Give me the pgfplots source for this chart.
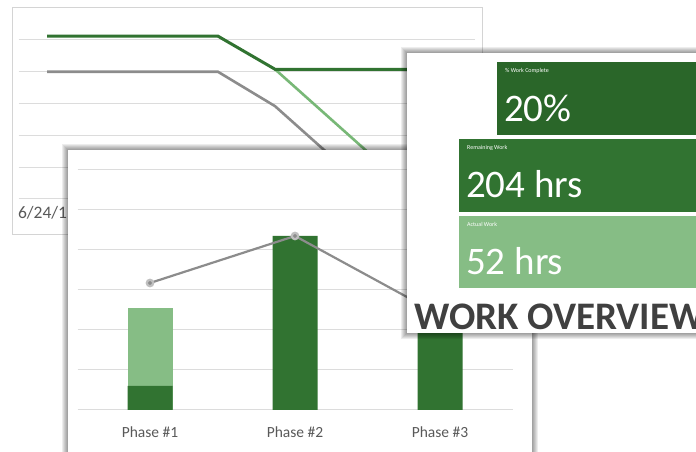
\documentclass[border=0pt]{standalone}
\usepackage{pgfplots}
\pgfplotsset{compat=1.18}
\usepackage{fontspec}
\setmainfont{Carlito}
\definecolor{dkgreen}{HTML}{317331}
\definecolor{dkgreenB}{HTML}{2A6629}
\definecolor{ltgreen}{HTML}{86BD85}
\definecolor{ltline}{HTML}{78B877}
\definecolor{linegray}{HTML}{8C8C8C}
\definecolor{gridgray}{HTML}{DCDCDC}
\definecolor{txtgray}{HTML}{595959}
\definecolor{titlegray}{HTML}{404040}
\begin{document}
\begin{tikzpicture}[x=1pt,y=1pt]
\useasboundingbox (0,0) rectangle (696,452);
\begin{scope}
\clip (0,0) rectangle (696,452);
\fill[white] (0,0) rectangle (696,452);
% ---------- panel 1 : line chart ----------
\draw[fill=white, draw=black!17, line width=1pt] (12,217) rectangle (482,444);
\begin{axis}[
  anchor=south west, at={(18.5pt,253pt)},
  x=57pt, y=0.636pt,
  xmin=-0.5, xmax=7.5, ymin=0, ymax=270,
  axis line style={draw=none}, tick style={draw=none},
  ytick={0,50,...,250}, yticklabels={},
  ymajorgrids, grid style={gridgray, line width=1pt},
  xtick={0,...,7},
  xticklabels={6/24/15,7/1/15,7/8/15,7/15/15,7/22/15,7/29/15,8/5/15,8/12/15},
  xticklabel style={font=\fontsize{17.5}{17.5}\selectfont, text=txtgray, yshift=-4pt},
]
\addplot[linegray, line width=2.6pt] coordinates {(0,200)(1,200)(2,200)(3,200)(4,146)(5,66)};
\addplot[ltline, line width=2.6pt] coordinates {(4,204)(5,124)(6,44)};
\addplot[dkgreen, line width=3pt] coordinates {(0,256)(1,256)(2,256)(3,256)(4,204)(5,204)(6,204)(7,204)};
\end{axis}
% ---------- panel 2 : bar chart ----------
\foreach \i in {1,...,6} {\fill[black, opacity=0.07] ({68-\i},{-8-\i}) rectangle ({532+\i},{302+\i});}
\fill[white] (68,-8) rectangle (532,302);
\begin{axis}[
  anchor=south west, at={(77.5pt,42pt)},
  x=145pt, y=2pt,
  xmin=-0.5, xmax=2.5, ymin=0, ymax=128,
  axis line style={draw=none}, tick style={draw=none},
  ytick={0,20,...,120}, yticklabels={},
  ymajorgrids, grid style={gridgray, line width=1pt},
  xtick={0,1,2}, xticklabels={Phase \#1,Phase \#2,Phase \#3},
  xticklabel style={font=\fontsize{15.5}{15.5}\selectfont, text=txtgray, yshift=-13pt},
]
\addplot[ybar, bar width=45pt, bar shift=0pt, fill=ltgreen, draw=none] coordinates {(0,51)};
\addplot[ybar, bar width=45pt, bar shift=0pt, fill=dkgreen, draw=none] coordinates {(0,12)(1,87)(2,55)};
\addplot[linegray, line width=2.2pt, mark=*, mark size=3.2pt, mark options={fill=linegray, draw=black!25}] coordinates {(0,63.5)(1,87)(2,47.5)};
\end{axis}
% ---------- panel 3 : work overview ----------
\foreach \i in {1,...,6} {\fill[black, opacity=0.07] ({407-\i},{119-\i}) rectangle ({700+\i},{399+\i});}
\fill[white] (407,119) rectangle (700,399);
\fill[dkgreenB] (497,317) rectangle (696,390);
\fill[dkgreen] (459,240) rectangle (696,313);
\fill[ltgreen] (459,164) rectangle (696,236);
\node[anchor=west, inner sep=0pt, text=white, font=\fontsize{6}{6}\selectfont] at (505,381) {\% Work Complete};
\node[anchor=base west, inner sep=0pt, text=white, font=\fontsize{39}{39}\selectfont] at (504,330) {20\%};
\node[anchor=west, inner sep=0pt, text=white, font=\fontsize{6}{6}\selectfont] at (467,304) {Remaining Work};
\node[anchor=base west, inner sep=0pt, text=white, font=\fontsize{39}{39}\selectfont] at (466,254) {204 hrs};
\node[anchor=west, inner sep=0pt, text=white, font=\fontsize{6}{6}\selectfont] at (467,228) {Actual Work};
\node[anchor=base west, inner sep=0pt, text=white, font=\fontsize{39}{39}\selectfont] at (466,177) {52 hrs};
\node[anchor=base west, inner sep=0pt, text=titlegray, font=\fontsize{39}{39}\selectfont\bfseries] at (414,122) {WORK OVERVIEW};
\end{scope}
\end{tikzpicture}
\end{document}
